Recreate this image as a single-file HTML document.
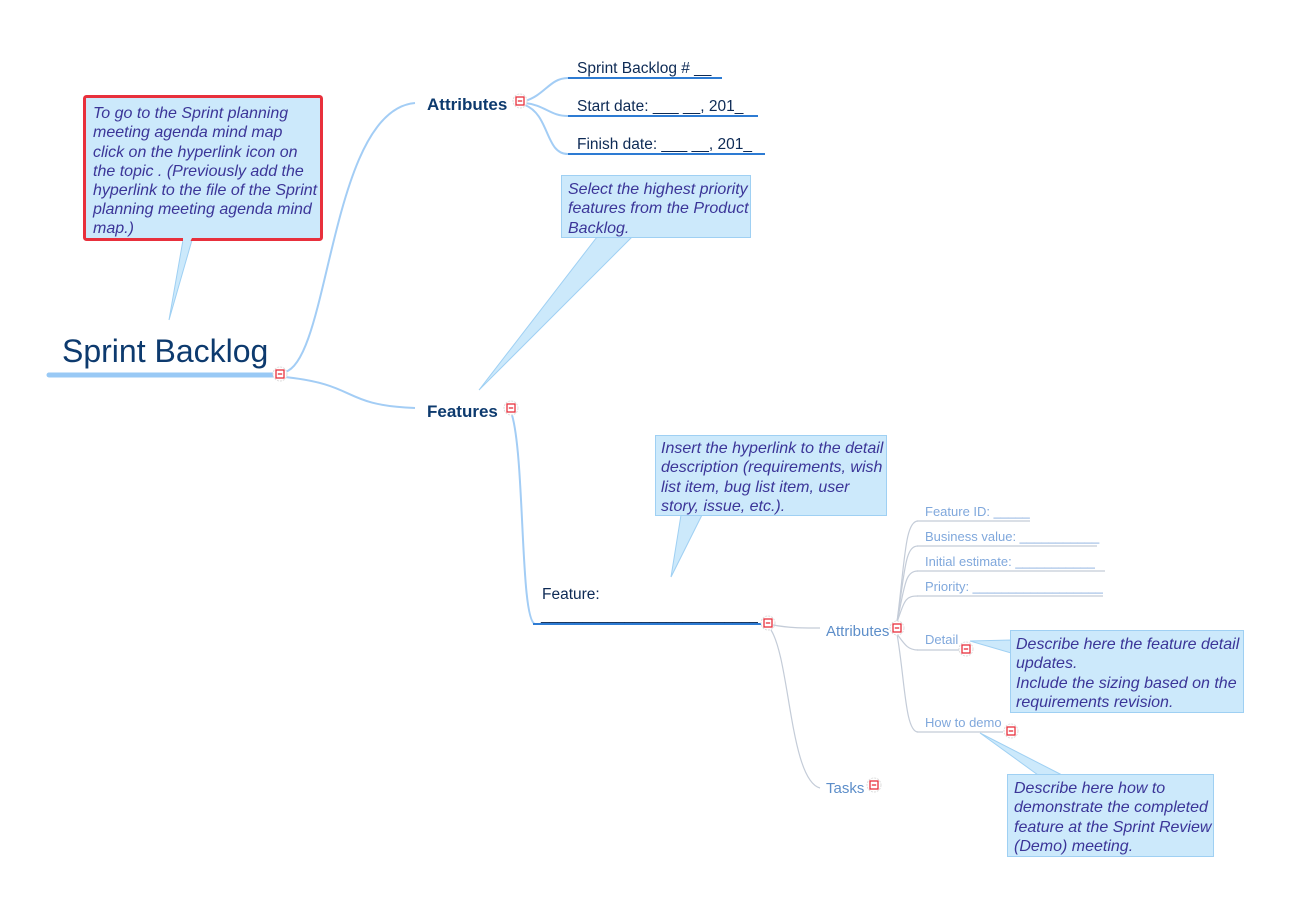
<!DOCTYPE html>
<html><head><meta charset="utf-8"><style>
html,body{margin:0;padding:0;background:#fff;}
svg{display:block;}
text{font-family:"Liberation Sans",Arial,sans-serif;}
.c{font-style:italic;font-size:16px;fill:#3b3598;}
.l{font-size:13px;fill:#80a8dc;}
</style></head><body>
<svg width="1293" height="906" viewBox="0 0 1293 906" xmlns="http://www.w3.org/2000/svg">
<defs>
<g id="ic"><circle r="7" fill="#fff" stroke="#ddd" stroke-dasharray="2 1"/><rect x="-4" y="-4" width="8" height="8" fill="#fff" stroke="#e8303c" stroke-width="1.3"/><line x1="-2.2" y1="0" x2="2.2" y2="0" stroke="#e8303c" stroke-width="1.3"/></g>
</defs>
<path d="M285 372 C330 360 330 110 415 103" fill="none" stroke="#a3cdf5" stroke-width="2"/>
<path d="M285 377 C360 385 340 405 415 408" fill="none" stroke="#a3cdf5" stroke-width="2"/>
<path d="M512 415 C525 460 520 620 535 624" fill="none" stroke="#a3cdf5" stroke-width="2"/>
<path d="M525 101 C545 95 550 78 568 78" fill="none" stroke="#a3cdf5" stroke-width="2"/>
<path d="M525 103 C545 105 550 116 568 116" fill="none" stroke="#a3cdf5" stroke-width="2"/>
<path d="M525 105 C550 115 545 154 568 154" fill="none" stroke="#a3cdf5" stroke-width="2"/>
<line x1="568" y1="78" x2="722" y2="78" stroke="#2d7bd3" stroke-width="2"/>
<line x1="568" y1="116" x2="758" y2="116" stroke="#2d7bd3" stroke-width="2"/>
<line x1="568" y1="154" x2="765" y2="154" stroke="#2d7bd3" stroke-width="2"/>
<line x1="49" y1="375" x2="275" y2="375" stroke="#99c9f5" stroke-width="5" stroke-linecap="round"/>
<text x="62" y="362" font-size="32" fill="#0d3a6e">Sprint Backlog</text>
<use href="#ic" x="280" y="374"/>
<text x="427" y="110" font-size="17" font-weight="bold" fill="#0d3a6e">Attributes</text>
<use href="#ic" x="520" y="101"/>
<text x="427" y="417" font-size="17" font-weight="bold" fill="#0d3a6e">Features</text>
<use href="#ic" x="511" y="408"/>
<text x="577" y="73" font-size="15.5" fill="#0d2a55">Sprint Backlog # __</text>
<text x="577" y="111" font-size="15.5" fill="#0d2a55">Start date: ___ __, 201_</text>
<text x="577" y="149" font-size="15.5" fill="#0d2a55">Finish date: ___ __, 201_</text>
<line x1="533" y1="624" x2="762" y2="624" stroke="#2d7bd3" stroke-width="2"/>
<text x="542" y="599" font-size="15.5" fill="#0d2a55">Feature:</text>
<text x="541" y="620" font-size="15" fill="#0d2a55">__________________________</text>
<use href="#ic" x="768" y="623"/>
<g fill="none" stroke="#c4ccd8" stroke-width="1.2">
<path d="M773 625 C790 628 800 628 820 628"/>
<path d="M771 630 C790 660 790 780 820 788"/>
<path d="M897 622 C905 560 905 521 918 521"/>
<path d="M897 622 C905 570 905 546 918 546"/>
<path d="M897 622 C905 585 905 571 918 571"/>
<path d="M897 622 C905 600 905 596 918 596"/>
<path d="M897 634 C905 645 908 650 918 650"/>
<path d="M897 634 C905 680 905 732 918 732"/>
<line x1="917" y1="521" x2="1030" y2="521"/>
<line x1="917" y1="546" x2="1097" y2="546"/>
<line x1="917" y1="571" x2="1105" y2="571"/>
<line x1="917" y1="596" x2="1103" y2="596"/>
<line x1="917" y1="650" x2="963" y2="650"/>
<line x1="917" y1="732" x2="1003" y2="732"/>
</g>
<text x="826" y="636" font-size="15" fill="#5d8ec9">Attributes</text>
<use href="#ic" x="897" y="628"/>
<text x="826" y="793" font-size="15" fill="#5d8ec9">Tasks</text>
<use href="#ic" x="874" y="785"/>
<text class="l" x="925" y="516">Feature ID: _____</text>
<text class="l" x="925" y="541">Business value: ___________</text>
<text class="l" x="925" y="566">Initial estimate: ___________</text>
<text class="l" x="925" y="591">Priority: __________________</text>
<text class="l" x="925" y="644">Detail</text>
<use href="#ic" x="966" y="649"/>
<text class="l" x="925" y="727">How to demo</text>
<use href="#ic" x="1011" y="731"/>
<g fill="#cce9fb" stroke="#9fd0f3" stroke-width="1">
<polygon points="183,240 192,240 169,320"/>
<polygon points="597,237 632,237 479,390"/>
<polygon points="681,515 702,515 671,577"/>
<polygon points="1011,640 1011,653 970,641"/>
<polygon points="1038,775 1062,775 980,733"/>
<rect x="561.5" y="175.5" width="189" height="62"/>
<rect x="655.5" y="435.5" width="231" height="80"/>
<rect x="1010.5" y="630.5" width="233" height="82"/>
<rect x="1007.5" y="774.5" width="206" height="82"/>
</g>
<rect x="84.5" y="96.5" width="237" height="143" rx="2" fill="#cce9fb" stroke="#e8303c" stroke-width="3"/>
<polygon points="183,238 192,238 190,242 183,242" fill="#cce9fb"/>
<text class="c"><tspan x="93" y="118">To go to the Sprint planning</tspan><tspan x="93" y="137">meeting agenda mind map</tspan><tspan x="93" y="157">click on the hyperlink icon on</tspan><tspan x="93" y="176">the topic . (Previously add the</tspan><tspan x="93" y="195">hyperlink to the file of the Sprint</tspan><tspan x="93" y="214">planning meeting agenda mind</tspan><tspan x="93" y="233">map.)</tspan></text>
<text class="c"><tspan x="568" y="194">Select the highest priority</tspan><tspan x="568" y="213">features from the Product</tspan><tspan x="568" y="233">Backlog.</tspan></text>
<text class="c"><tspan x="661" y="453">Insert the hyperlink to the detail</tspan><tspan x="661" y="472">description (requirements, wish</tspan><tspan x="661" y="492">list item, bug list item, user</tspan><tspan x="661" y="511">story, issue, etc.).</tspan></text>
<text class="c"><tspan x="1016" y="649">Describe here the feature detail</tspan><tspan x="1016" y="668">updates.</tspan><tspan x="1016" y="688">Include the sizing based on the</tspan><tspan x="1016" y="707">requirements revision.</tspan></text>
<text class="c"><tspan x="1014" y="793">Describe here how to</tspan><tspan x="1014" y="812">demonstrate the completed</tspan><tspan x="1014" y="832">feature at the Sprint Review</tspan><tspan x="1014" y="851">(Demo) meeting.</tspan></text>
</svg>
</body></html>
